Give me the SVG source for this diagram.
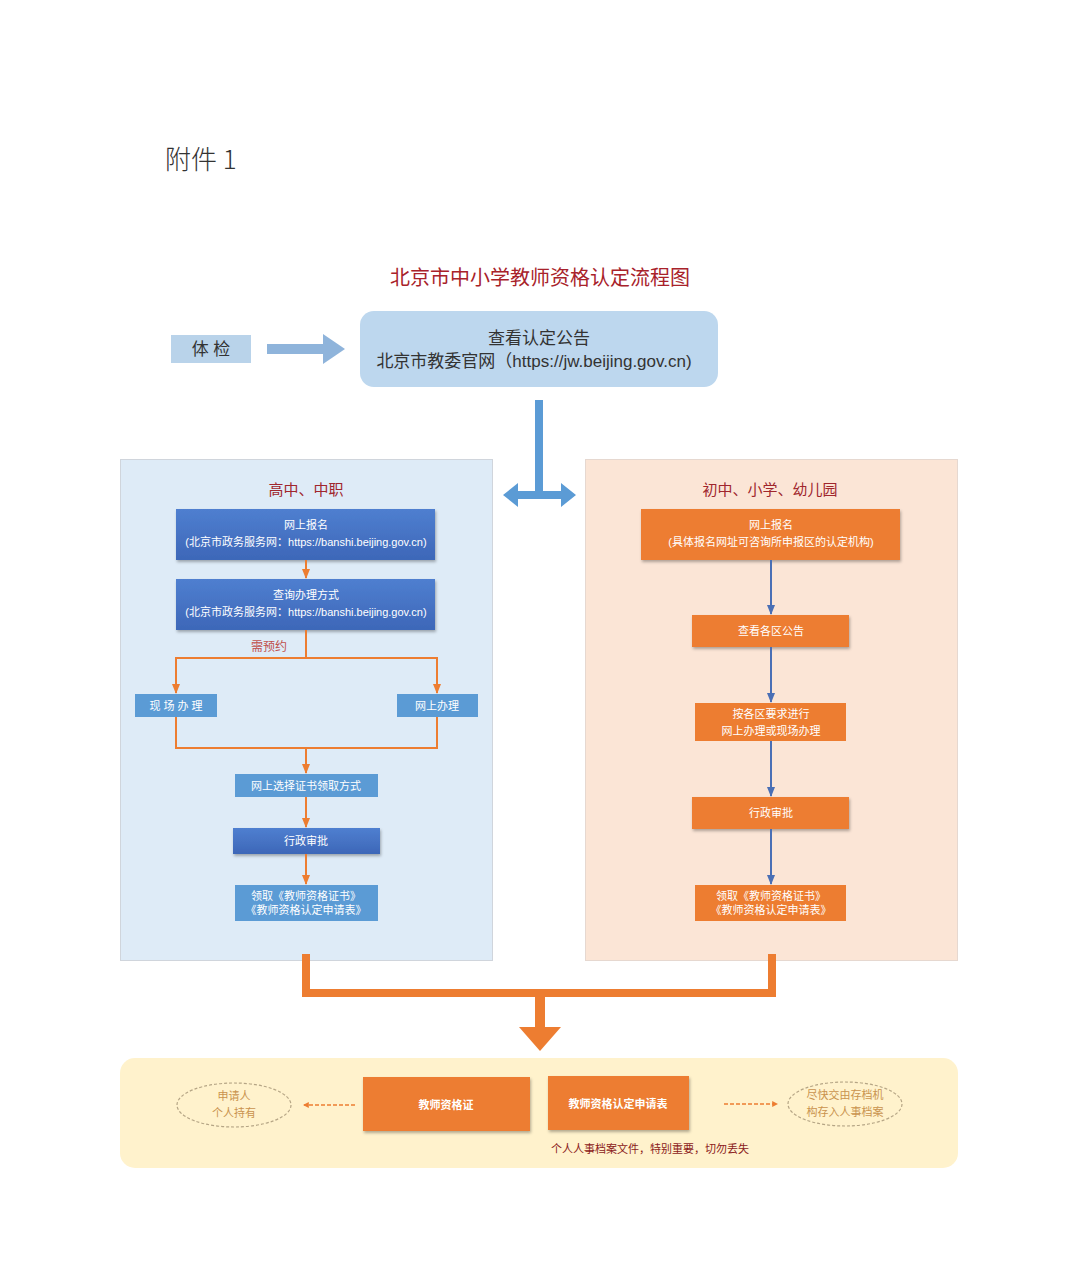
<svg xmlns="http://www.w3.org/2000/svg" width="1080" height="1268" viewBox="0 0 1080 1268">
<style>
text{font-family:"Liberation Sans","Noto Sans CJK SC",sans-serif;text-anchor:middle}
.w{fill:#ffffff;font-size:11px}
.dk{fill:#333333}
.blueN{fill:#4472c4}
.lblue{fill:#5b9bd5}
.org{fill:#ed7d31}
.ol{stroke:#ed7d31;stroke-width:2;fill:none}
.bl{stroke:#4a6fb5;stroke-width:2;fill:none}
.ell{fill:none;stroke:#b5a585;stroke-width:1.2;stroke-dasharray:3 2}
.etx{fill:#c9924e;font-size:11px}
</style>
<defs>
<marker id="ah" viewBox="0 0 10 10" refX="9" refY="5" markerWidth="5" markerHeight="5" orient="auto"><path d="M0,1 L10,5 L0,9 Z" fill="#ed7d31"/></marker>
<marker id="bh" viewBox="0 0 10 10" refX="9" refY="5" markerWidth="5" markerHeight="5" orient="auto"><path d="M0,1 L10,5 L0,9 Z" fill="#4a6fb5"/></marker>
<marker id="dh" viewBox="0 0 10 10" refX="8" refY="5" markerWidth="4" markerHeight="5" orient="auto"><path d="M0,0 L10,5 L0,10 Z" fill="#ed7d31"/></marker>
<filter id="sh" x="-10%" y="-20%" width="120%" height="150%"><feDropShadow dx="1" dy="2" stdDeviation="1.5" flood-color="#000" flood-opacity="0.3"/></filter>
<linearGradient id="bg" x1="0" y1="0" x2="0" y2="1"><stop offset="0" stop-color="#4f7fd0"/><stop offset="1" stop-color="#3d67b8"/></linearGradient>
</defs>
<rect width="1080" height="1268" fill="#ffffff"/>
<text x="165" y="169" style="text-anchor:start;font-family:'Noto Sans CJK SC',sans-serif;font-weight:300" font-size="26" fill="#333">附件 1</text>
<text x="540" y="285" font-size="20" fill="#a8222a" style="font-family:'Noto Sans CJK SC',sans-serif">北京市中小学教师资格认定流程图</text>

<g id="tijian"><rect x="171" y="335" width="80" height="28" fill="#b9d3ea"/><text x="211" y="355" font-size="17" class="dk">体 检</text></g>
<g id="notice"><rect x="360" y="311" width="358" height="76" rx="14" fill="#bdd7ee"/><text x="539" y="344" font-size="17" class="dk">查看认定公告</text><text x="534" y="367" font-size="17" class="dk">北京市教委官网（https://jw.beijing.gov.cn)</text></g>

<g id="panel-left"><rect x="120.5" y="459.5" width="372" height="501" fill="#deebf7" stroke="#d0d5dc"/><text x="306" y="495" font-size="15" fill="#a0262d">高中、中职</text></g>
<g id="panel-right"><rect x="585.5" y="459.5" width="372" height="501" fill="#fbe5d6" stroke="#e6d8d0"/><text x="770" y="495" font-size="15" fill="#a0262d">初中、小学、幼儿园</text></g>

<g id="L1"><rect x="176" y="509" width="259" height="51" fill="url(#bg)" filter="url(#sh)"/><text x="306" y="529" class="w">网上报名</text><text x="306" y="546" class="w">(北京市政务服务网：https://banshi.beijing.gov.cn)</text></g>
<g id="L2"><rect x="176" y="579" width="259" height="51" fill="url(#bg)" filter="url(#sh)"/><text x="306" y="599" class="w">查询办理方式</text><text x="306" y="616" class="w">(北京市政务服务网：https://banshi.beijing.gov.cn)</text></g>
<g id="L3"><rect x="135" y="694" width="82" height="23" class="lblue"/><text x="176" y="710" class="w" font-size="12">现 场 办 理</text></g>
<g id="L4"><rect x="397" y="694" width="81" height="23" class="lblue"/><text x="437" y="710" class="w" font-size="12">网上办理</text></g>
<g id="L5"><rect x="235" y="774" width="143" height="23" class="lblue"/><text x="306" y="790" class="w">网上选择证书领取方式</text></g>
<g id="L6"><rect x="233" y="828" width="147" height="26" fill="url(#bg)" filter="url(#sh)"/><text x="306" y="845" class="w">行政审批</text></g>
<g id="L7"><rect x="235" y="885" width="143" height="36" class="lblue"/><text x="306" y="900" class="w">领取《教师资格证书》</text><text x="306" y="914" class="w">《教师资格认定申请表》</text></g>

<g id="R1"><rect x="641" y="509" width="259" height="51" class="org" filter="url(#sh)"/><text x="771" y="529" class="w">网上报名</text><text x="771" y="546" class="w">(具体报名网址可咨询所申报区的认定机构)</text></g>
<g id="R2"><rect x="692" y="615" width="157" height="32" class="org" filter="url(#sh)"/><text x="771" y="635" class="w">查看各区公告</text></g>
<g id="R3"><rect x="695" y="703" width="151" height="38" class="org"/><text x="771" y="718" class="w">按各区要求进行</text><text x="771" y="735" class="w">网上办理或现场办理</text></g>
<g id="R4"><rect x="692" y="797" width="157" height="32" class="org" filter="url(#sh)"/><text x="771" y="817" class="w">行政审批</text></g>
<g id="R5"><rect x="695" y="885" width="151" height="36" class="org"/><text x="771" y="900" class="w">领取《教师资格证书》</text><text x="771" y="914" class="w">《教师资格认定申请表》</text></g>

<g id="bottom-panel"><rect x="120" y="1058" width="838" height="110" rx="15" fill="#fff2cc"/></g>
<g id="B1"><rect x="363" y="1077" width="167" height="54" class="org" filter="url(#sh)"/><text x="446" y="1109" class="w" font-size="12" font-weight="bold">教师资格证</text></g>
<g id="B2"><rect x="548" y="1076" width="141" height="54" class="org" filter="url(#sh)"/><text x="618" y="1108" class="w" font-size="12" font-weight="bold">教师资格认定申请表</text></g>
<g id="note"><text x="650" y="1153" font-size="11" fill="#8b1a1a">个人人事档案文件，特别重要，切勿丢失</text></g>
<g id="E1"><ellipse cx="234" cy="1105" rx="57" ry="22" class="ell"/><text x="234" y="1100" class="etx">申请人</text><text x="234" y="1117" class="etx">个人持有</text></g>
<g id="E2"><ellipse cx="845" cy="1104" rx="57" ry="22" class="ell"/><text x="845" y="1099" class="etx">尽快交由存档机</text><text x="845" y="1116" class="etx">构存入人事档案</text></g>

<g id="connectors">
<path d="M267,349 H325" stroke="#8fb4db" stroke-width="10"/><path d="M323,334 L345,349 L323,364 Z" fill="#8fb4db"/>
<path d="M539,400 V495" stroke="#5b9bd5" stroke-width="8"/>
<path d="M515,495 H564" stroke="#5b9bd5" stroke-width="8"/>
<path d="M503,495 L518,483 L518,507 Z M576,495 L561,483 L561,507 Z" fill="#5b9bd5"/>
<path d="M306,560 V578" class="ol" marker-end="url(#ah)"/>
<path d="M306,630 V658" class="ol"/>
<text x="269" y="651" font-size="12" fill="#c0504d">需预约</text>
<path d="M176,693 V658 H437 V693" class="ol"/>
<path d="M176,675 V693" class="ol" marker-end="url(#ah)"/>
<path d="M437,675 V693" class="ol" marker-end="url(#ah)"/>
<path d="M176,717 V748 H437 V717" class="ol"/>
<path d="M306,748 V773" class="ol" marker-end="url(#ah)"/>
<path d="M306,797 V827" class="ol" marker-end="url(#ah)"/>
<path d="M306,854 V884" class="ol" marker-end="url(#ah)"/>
<path d="M771,560 V614" class="bl" marker-end="url(#bh)"/>
<path d="M771,647 V702" class="bl" marker-end="url(#bh)"/>
<path d="M771,741 V796" class="bl" marker-end="url(#bh)"/>
<path d="M771,829 V884" class="bl" marker-end="url(#bh)"/>
<path d="M306,954 V993 H772 V954" stroke="#ed7d31" stroke-width="8" fill="none" stroke-linejoin="miter"/>
<path d="M540,993 V1030" stroke="#ed7d31" stroke-width="10"/>
<path d="M519,1027 L561,1027 L540,1051 Z" fill="#ed7d31"/>
<path d="M355,1105 H304" stroke="#ed7d31" stroke-width="1.5" stroke-dasharray="4 2" marker-end="url(#dh)"/>
<path d="M724,1104 H777" stroke="#ed7d31" stroke-width="1.5" stroke-dasharray="4 2" marker-end="url(#dh)"/>
</g>
</svg>
